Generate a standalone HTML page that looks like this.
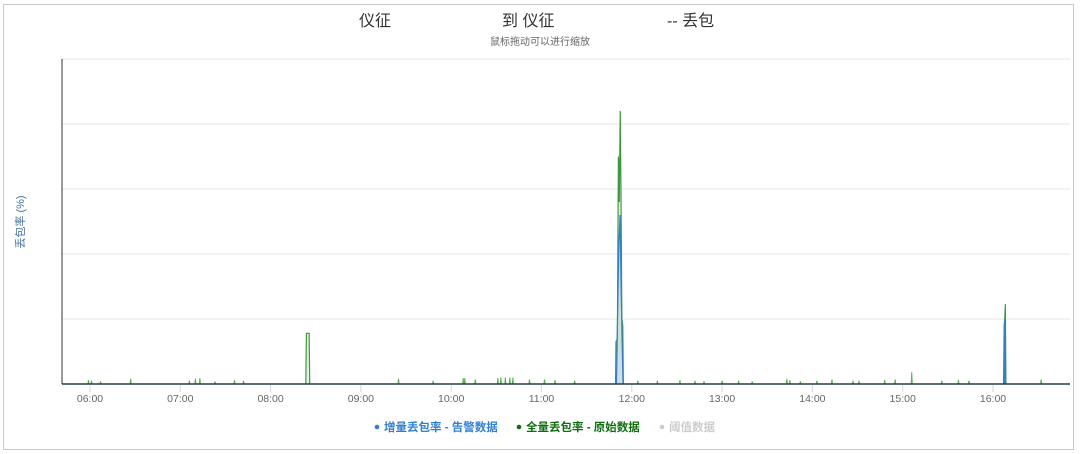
<!DOCTYPE html>
<html><head><meta charset="utf-8">
<style>
html,body{margin:0;padding:0;background:#fff;}
body{width:1080px;height:454px;overflow:hidden;font-family:"Liberation Sans","Noto Sans CJK SC",sans-serif;}
#frame{position:absolute;left:3px;top:4px;width:1071px;height:446px;border:1px solid #c8c8c8;box-sizing:border-box;}
</style></head>
<body>
<div id="frame"></div>
<svg id="chart" width="1080" height="454" style="position:absolute;left:0;top:0">
<g font-size="16" fill="#333">
<text x="359" y="26">仪征</text>
<text x="502" y="26">到 仪征</text>
<text x="667" y="26">-- 丢包</text>
</g>
<text x="540" y="45" text-anchor="middle" font-size="10" fill="#666">鼠标拖动可以进行缩放</text>
<text transform="translate(24,222) rotate(-90)" text-anchor="middle" font-size="11" fill="#4572a7">丢包率 (%)</text>
<g id="grid"></g>
<g id="series"></g>
<g id="axes"></g>
<g font-size="11.5" font-weight="bold">
<g><circle cx="377" cy="427" r="2.3" fill="#2f7ed8"/><text x="384" y="431" fill="#2f7ed8">增量丢包率 - 告警数据</text></g>
<g><circle cx="519" cy="427" r="2.3" fill="#0d6e0d"/><text x="526" y="431" fill="#0d6e0d">全量丢包率 - 原始数据</text></g>
<g><circle cx="662" cy="427" r="2.3" fill="#ccc"/><text x="669" y="431" fill="#ccc">阈值数据</text></g>
</g>
</svg>
<script>
// minutes since midnight
const xTicks = [360,420,480,540,600,660,720,780,840,900,960];
const xTickLabels = ["06:00","07:00","08:00","09:00","10:00","11:00","12:00","13:00","14:00","15:00","16:00"];
const yTicks = [0,1,2,3,4,5];
// isolated small spikes (green, raw data)
const spikeTimes = [359,361,367,387,426,430,433,443,456,462,565,588,608,609,616,631,633,636,639,641,652,662,669,682,724,737,752,762,768,780,791,800,823,825,832,843,853,867,871,888,895,906,926,937,944,992];
const spikeValues = [0.06,0.05,0.04,0.08,0.05,0.08,0.09,0.04,0.06,0.05,0.08,0.05,0.09,0.09,0.07,0.09,0.1,0.1,0.1,0.1,0.07,0.07,0.06,0.05,0.05,0.05,0.06,0.05,0.04,0.05,0.05,0.04,0.08,0.06,0.04,0.05,0.07,0.05,0.05,0.06,0.07,0.18,0.05,0.06,0.05,0.07];
// clusters (full loss, green)
const greenTimes = [503.4,503.8,505.6,506.0, 709.2,709.5,710.4,711.1,711.7,712.3,712.8,713.4,714.0,714.4, 967.0,967.4,967.8,968.2,968.6];
const greenValues = [0,0.78,0.78,0, 0,0.65,0.7,3.5,2.8,4.2,3.0,1.0,0.9,0, 0,0.9,1.0,1.23,0];
const greenBreaks = [4,14];
// incremental loss (blue)
const blueTimes = [709.8,710.8,711.5,712.2,712.9,713.6,714.2, 967.5,967.9,968.3];
const blueValues = [0,1.4,2.2,2.6,1.5,0.6,0, 0,1.0,0];
const blueBreaks = [7];

const L=62,R=1070,T=59,B=384,PX=90.3,t0=360-(90-L)*60/PX,t1=t0+(R-L)*60/PX;
const xs=t=>L+(t-t0)/(t1-t0)*(R-L);
const ys=v=>B-v/5*(B-T);
const NS="http://www.w3.org/2000/svg";
function mk(tag,attrs,parent){const e=document.createElementNS(NS,tag);for(const k in attrs)e.setAttribute(k,attrs[k]);parent.appendChild(e);return e;}
const grid=document.getElementById('grid'),ser=document.getElementById('series'),axes=document.getElementById('axes');
yTicks.forEach((v,i)=>{if(v===0)return;const l=mk('line',{x1:L,x2:R,y1:ys(v),y2:ys(v),stroke:'#e6e6e6','stroke-width':1},grid);

});
function segs(times,vals,breaks){const out=[];let s=0;[...breaks,times.length].forEach(b=>{out.push([times.slice(s,b),vals.slice(s,b)]);s=b;});return out;}
// blue area
segs(blueTimes,blueValues,blueBreaks).forEach(([ts,vs])=>{
 let d='M'+xs(ts[0])+','+B;ts.forEach((t,i)=>d+=' L'+xs(t)+','+ys(vs[i]));d+=' L'+xs(ts[ts.length-1])+','+B+'Z';
 const a=mk('path',{d:d,fill:'#b9cde6',opacity:0.9},ser);
 
 
});
// green small spikes
spikeTimes.forEach((t,i)=>{const x=xs(t);const p=mk('path',{d:`M${x-0.6},${B} L${x},${ys(spikeValues[i])} L${x+0.6},${B}`,fill:'none',stroke:'#5fae5f','stroke-width':1},ser);

});
// green clusters
segs(greenTimes,greenValues,greenBreaks).forEach(([ts,vs])=>{
 let d='';ts.forEach((t,i)=>d+=(i?' L':'M')+xs(t)+','+ys(vs[i]));
 const f=mk('path',{d:d+' Z',fill:'#d7ead7',opacity:0.6},ser);
 
 
 const p=mk('path',{d:d,fill:'none',stroke:'#3c9a3c','stroke-width':1.2},ser);
 
 
});
segs(blueTimes,blueValues,blueBreaks).forEach(([ts,vs])=>{
 let d='';ts.forEach((t,i)=>d+=(i?' L':'M')+xs(t)+','+ys(vs[i]));
 const p=mk('path',{d:d,fill:'none',stroke:'#2f7ed8','stroke-width':1.2},ser);
 
 
});
const ya=mk('line',{x1:L,x2:L,y1:T,y2:B,stroke:'#333','stroke-width':1},axes);


const xa=mk('line',{x1:L,x2:R,y1:B,y2:B,stroke:'#2a3a4a','stroke-width':1.5},axes);


xTicks.forEach((t,i)=>{const x=xs(t);
 const tk=mk('line',{x1:x,x2:x,y1:B+1,y2:B+8,stroke:'#ccd6eb','stroke-width':1},axes);
 
 
 const tx=mk('text',{x:x,y:B+18,'text-anchor':'middle','font-size':10.5,fill:'#666'},axes);
 tx.textContent=xTickLabels[i];
 
 
});
</script>
</body></html>
